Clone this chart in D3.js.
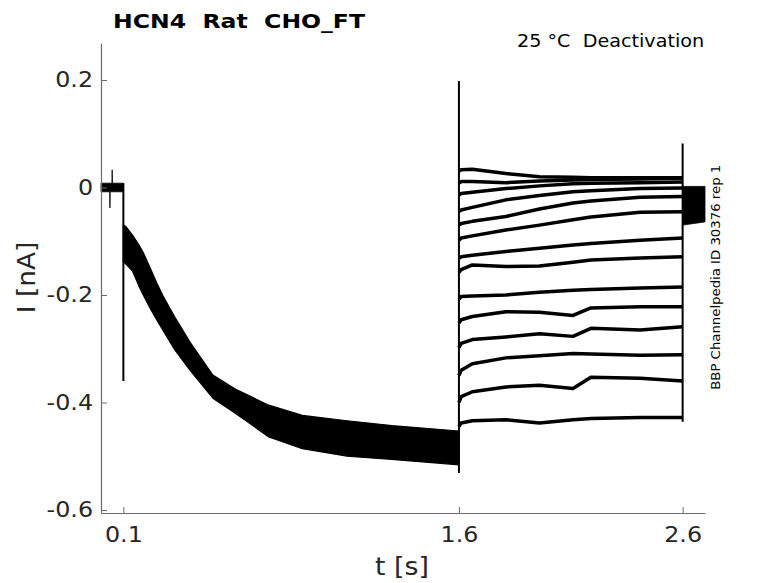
<!DOCTYPE html>
<html>
<head>
<meta charset="utf-8">
<script src="https://cdn.jsdelivr.net/npm/d3@7"></script>
<style>
  html, body { margin: 0; padding: 0; background: #fff; }
  svg { display: block; font-family: "DejaVu Sans", sans-serif; }
  text { white-space: pre; }
</style>
</head>
<body>
<svg id="chart" width="778" height="583"></svg>
<script>
// ---------------- data ----------------
const xTicks = [0.1, 1.6, 2.6];
const xTickLabels = ["0.1", "1.6", "2.6"];
const yTicks = [-0.6, -0.4, -0.2, 0, 0.2];
const yTickLabels = ["-0.6", "-0.4", "-0.2", "0", "0.2"];

// holding period before the first step (noise band envelope, nA)
const holdT     = [0, 0.039, 0.040, 0.041, 0.049, 0.050, 0.051, 0.1];
const holdUpper = [0.008, 0.008, 0.008, 0.008, 0.008, 0.033, 0.008, 0.008];
const holdLower = [-0.008, -0.008, -0.038, -0.008, -0.008, -0.008, -0.008, -0.008];

// activation period: envelope of the bundle of traces (nA)
const actT     = [0.1, 0.11, 0.14, 0.17, 0.19, 0.22, 0.25, 0.28, 0.33, 0.40, 0.50, 0.60, 0.75, 0.90, 1.10, 1.30, 1.60];
const actUpper = [-0.070, -0.072, -0.088, -0.107, -0.122, -0.150, -0.178, -0.204, -0.241, -0.289, -0.349, -0.375, -0.405, -0.424, -0.434, -0.443, -0.453];
const actLower = [-0.138, -0.142, -0.155, -0.184, -0.201, -0.225, -0.247, -0.268, -0.302, -0.341, -0.392, -0.420, -0.464, -0.486, -0.500, -0.506, -0.516];

// capacitive transients at each voltage step
const stepT    = [0.1, 1.6, 2.6];
const stepLow  = [-0.360, -0.531, -0.436];
const stepHigh = [0.008, 0.198, 0.082];

// test pulses (deactivation), one trace per test potential (nA)
const testT = [1.6, 1.61, 1.66, 1.81, 1.96, 2.11, 2.19, 2.41, 2.6];
const trace1  = [0.030, 0.033, 0.034, 0.026, 0.020, 0.019, 0.018, 0.018, 0.018];
const trace2  = [0.008, 0.011, 0.011, 0.009, 0.012, 0.014, 0.015, 0.016, 0.017];
const trace3  = [-0.014, -0.011, -0.009, -0.002, 0.003, 0.007, 0.008, 0.009, 0.010];
const trace4  = [-0.045, -0.042, -0.037, -0.023, -0.015, -0.008, -0.006, -0.002, -0.001];
const trace5  = [-0.070, -0.067, -0.063, -0.054, -0.040, -0.029, -0.025, -0.018, -0.017];
const trace6  = [-0.098, -0.094, -0.090, -0.079, -0.070, -0.060, -0.055, -0.046, -0.045];
const trace7  = [-0.132, -0.129, -0.126, -0.119, -0.113, -0.107, -0.104, -0.098, -0.094];
const trace8  = [-0.158, -0.153, -0.144, -0.147, -0.146, -0.139, -0.135, -0.131, -0.129];
const trace9  = [-0.208, -0.203, -0.202, -0.200, -0.195, -0.191, -0.190, -0.187, -0.185];
const trace10 = [-0.252, -0.246, -0.240, -0.231, -0.232, -0.238, -0.224, -0.222, -0.222];
const trace11 = [-0.298, -0.290, -0.283, -0.278, -0.272, -0.277, -0.262, -0.265, -0.259];
const trace12 = [-0.350, -0.340, -0.328, -0.317, -0.313, -0.309, -0.310, -0.312, -0.311];
const trace13 = [-0.400, -0.389, -0.380, -0.371, -0.368, -0.374, -0.353, -0.355, -0.360];
const trace14 = [-0.445, -0.438, -0.434, -0.432, -0.438, -0.432, -0.430, -0.428, -0.428];
const testTraces = [trace1, trace2, trace3, trace4, trace5, trace6, trace7,
                    trace8, trace9, trace10, trace11, trace12, trace13, trace14];

// tail after returning to holding (envelope, nA)
const postT     = [2.6, 2.7];
const postUpper = [0.002, 0.002];
const postLower = [-0.070, -0.064];

const titleText = "HCN4  Rat  CHO_FT";
const condText  = "25 °C  Deactivation";
const idText    = "BBP Channelpedia ID 30376 rep 1";
const xLabel    = "t [s]";
const yLabel    = "I [nA]";

// ---------------- drawing ----------------
const svg = d3.select("#chart");
const x = d3.scaleLinear().domain([0, 2.7]).range([101, 705]);
const y = d3.scaleLinear().domain([-0.6056, 0.2688]).range([513, 43]);

const ink = "#000";
const axisCol = "#6b6b6b";
const textCol = "#262626";

function band(ts, up, lo) {
  const pts = ts.map((t, i) => ({ t, u: up[i], l: lo[i] }));
  return d3.area().x(d => x(d.t)).y0(d => y(d.l)).y1(d => y(d.u))(pts);
}

const plot = svg.append("g");

plot.append("path").attr("d", band(holdT, holdUpper, holdLower))
  .attr("fill", ink).attr("stroke", ink).attr("stroke-width", 0.8);

plot.append("path").attr("d", band(actT, actUpper, actLower))
  .attr("fill", ink).attr("stroke", ink).attr("stroke-width", 1.2)
  .attr("stroke-linejoin", "round");

plot.append("path").attr("d", band(postT, postUpper, postLower))
  .attr("fill", ink).attr("stroke", ink).attr("stroke-width", 0.8);

const line = d3.line().x(d => x(d[0])).y(d => y(d[1]));
testTraces.forEach(tr => {
  plot.append("path")
    .attr("d", line(testT.map((t, i) => [t, tr[i]])))
    .attr("fill", "none").attr("stroke", ink)
    .attr("stroke-width", 3.5).attr("stroke-linejoin", "round");
});

stepT.forEach((t, i) => {
  plot.append("line")
    .attr("x1", x(t)).attr("x2", x(t))
    .attr("y1", y(stepLow[i])).attr("y2", y(stepHigh[i]))
    .attr("stroke", ink).attr("stroke-width", 2);
});

// axes
const fsTick = 20.5;
const gx = svg.append("g").attr("transform", "translate(0,513)")
  .call(d3.axisBottom(x).tickValues(xTicks)
    .tickFormat((d, i) => xTickLabels[i])
    .tickSizeInner(-6).tickSizeOuter(0).tickPadding(14));
const gy = svg.append("g").attr("transform", "translate(101,0)")
  .call(d3.axisLeft(y).tickValues(yTicks)
    .tickFormat((d, i) => yTickLabels[i])
    .tickSizeInner(-6).tickSizeOuter(0).tickPadding(8));

[gx, gy].forEach(g => {
  g.select(".domain").attr("stroke", axisCol).attr("stroke-width", 1.2);
  g.selectAll(".tick line").attr("stroke", axisCol).attr("stroke-width", 1);
  g.selectAll(".tick text")
    .attr("fill", textCol)
    .style("font-family", "'DejaVu Sans', sans-serif")
    .style("font-size", fsTick + "px")
    .each(function () {
      const w = this.getComputedTextLength();
      d3.select(this).attr("textLength", w * 1.16).attr("lengthAdjust", "spacingAndGlyphs");
    });
});

function stretch(sel, f) {
  sel.each(function () {
    const w = this.getComputedTextLength();
    d3.select(this).attr("textLength", w * f).attr("lengthAdjust", "spacingAndGlyphs");
  });
}

// title
svg.append("text").attr("x", 113).attr("y", 27.5)
  .attr("font-weight", "bold").attr("font-size", 19.8).attr("fill", "#000")
  .text(titleText).call(stretch, 1.19);

// condition text
svg.append("text").attr("x", 517).attr("y", 46.7)
  .attr("font-size", 18).attr("fill", "#000")
  .text(condText).call(stretch, 1.065);

// axis labels
svg.append("text").attr("x", 402).attr("y", 575)
  .attr("text-anchor", "middle").attr("font-size", 25).attr("fill", textCol)
  .text(xLabel).call(stretch, 1.07);

svg.append("text")
  .attr("transform", "translate(35,277.5) rotate(-90)")
  .attr("text-anchor", "middle").attr("font-size", 24).attr("fill", textCol)
  .text(yLabel).call(stretch, 1.1);

// id text on the right
svg.append("text")
  .attr("transform", "translate(720,277.3) rotate(-90)")
  .attr("text-anchor", "middle").attr("font-size", 13).attr("fill", "#000")
  .text(idText).call(stretch, 1.02);
</script>
</body>
</html>
